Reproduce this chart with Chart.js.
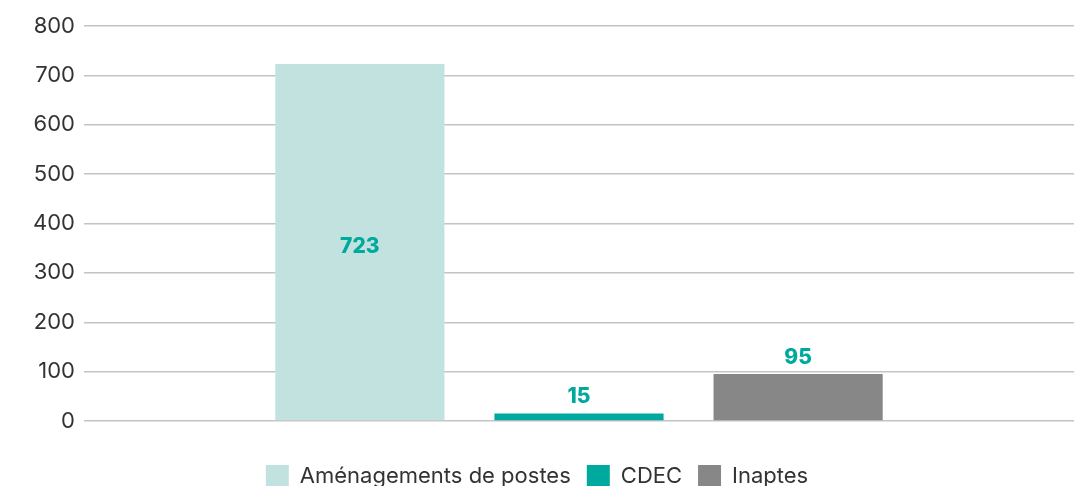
<!DOCTYPE html>
<html lang="fr">
<head>
<meta charset="UTF-8">
<title>Aménagements de postes, CDEC, Inaptes</title>
<script src="https://cdn.jsdelivr.net/npm/chart.js"></script>
<style>
    html, body { margin: 0; padding: 0; background: #fff; }
    #wrap { width: 1081px; height: 486px; }
</style>
</head>
<body>
<div id="wrap"><canvas id="chart"></canvas></div>
<script>
    // données
    const categories = [''];
    const seriesNames = ['Aménagements de postes', 'CDEC', 'Inaptes'];
    const seriesValues = [723, 15, 95];
    const seriesColors = ['#c2e2df', '#00a99d', '#878787'];
    const yTicks = [0, 100, 200, 300, 400, 500, 600, 700, 800];

    // étiquettes de valeur : dans la barre pour la première, au-dessus pour les autres
    const valueLabels = {
        id: 'valueLabels',
        afterDatasetsDraw(chart) {
            const ctx = chart.ctx;
            ctx.save();
            ctx.font = '800 21px Inter, sans-serif';
            ctx.fillStyle = '#00a99d';
            ctx.textAlign = 'center';
            chart.data.datasets.forEach((ds, i) => {
                const bar = chart.getDatasetMeta(i).data[0];
                const v = ds.data[0];
                if (i === 0) {
                    ctx.textBaseline = 'middle';
                    ctx.fillText(String(v), bar.x, (bar.y + bar.base) / 2 + 5);
                } else {
                    ctx.textBaseline = 'bottom';
                    ctx.fillText(String(v), bar.x, bar.y - 6);
                }
            });
            ctx.restore();
        }
    };

    new Chart(document.getElementById('chart'), {
        type: 'bar',
        data: {
            labels: categories,
            datasets: seriesNames.map((name, i) => ({
                label: name,
                data: [seriesValues[i]],
                backgroundColor: seriesColors[i],
                borderWidth: 0,
                categoryPercentage: 0.664,
                barPercentage: 0.772
            }))
        },
        options: {
            responsive: true,
            maintainAspectRatio: false,
            animation: false,
            layout: { padding: { top: 26, right: 7, left: 0, bottom: -12 } },
            plugins: {
                tooltip: { enabled: false },
                legend: {
                    position: 'bottom',
                    labels: {
                        boxWidth: 23,
                        boxHeight: 23,
                        padding: 16,
                        color: '#333',
                        font: { family: 'Inter, sans-serif', size: 22 }
                    }
                }
            },
            scales: {
                x: {
                    grid: { display: false },
                    border: { display: false },
                    ticks: { display: false },
                    afterFit(axis) { axis.height = 28; }
                },
                y: {
                    min: 0,
                    max: 800,
                    afterBuildTicks(axis) { axis.ticks = yTicks.map(v => ({ value: v })); },
                    afterFit(axis) { axis.width = 84; },
                    grid: { color: '#c4c4c4', lineWidth: 1.5, drawTicks: false },
                    border: { display: false },
                    ticks: {
                        padding: 9,
                        color: '#333',
                        font: { family: 'Inter, sans-serif', size: 22 }
                    }
                }
            }
        },
        plugins: [valueLabels]
    });
</script>
</body>
</html>
